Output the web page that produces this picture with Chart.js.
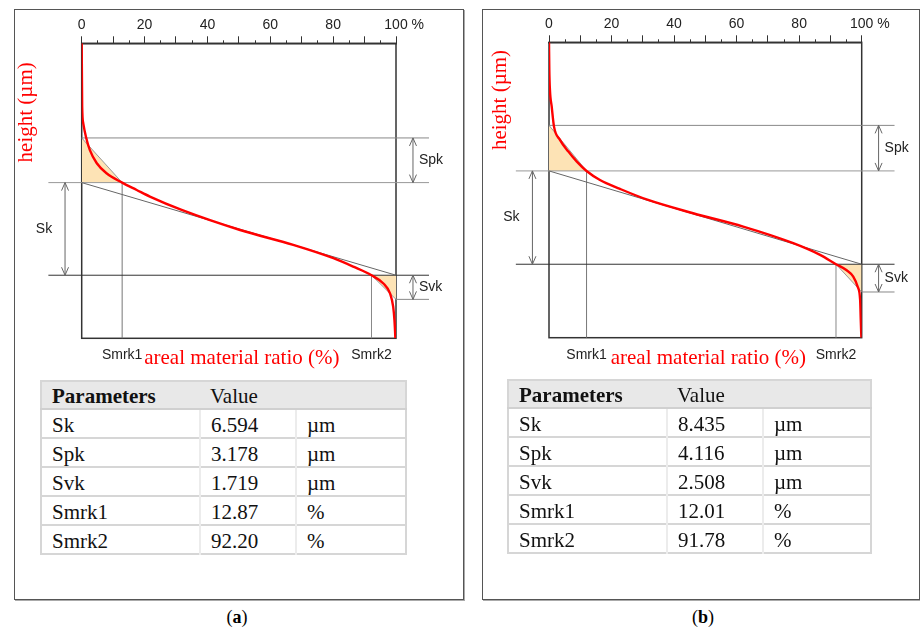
<!DOCTYPE html>
<html>
<head>
<meta charset="utf-8">
<title>Material ratio curves</title>
<script src="https://cdn.jsdelivr.net/npm/chart.js@4.4.1/dist/chart.umd.min.js"></script>
<style>
  body { margin: 0; background: #fff; }
  #page { position: relative; width: 920px; height: 635px; overflow: hidden; font-family: "Liberation Serif", "DejaVu Serif", serif; }
  .panel { position: absolute; top: 9px; height: 591px; box-sizing: border-box; border: 1px solid #555; box-shadow: 1px 1px 0 #aaa; }
  #panelA { left: 14px; width: 450px; }
  #panelB { left: 482px; width: 438px; }
  canvas { position: absolute; top: 0; }
  #chartA { left: 0; }
  #chartB { left: 465px; }
  table { position: absolute; border-collapse: collapse; table-layout: fixed; font-size: 21px; color: #111; border: 2px solid #d6d6d6; }
  #tableA { left: 40px; top: 380px; width: 367px; }
  #tableB { left: 507px; top: 379px; width: 365px; }
  th, td { text-align: left; vertical-align: bottom; padding: 0 0 1px 10px; line-height: 21px; font-weight: normal; }
  th { height: 25px; background: #e8e8e8; border-bottom: 2px solid #d0d0d0; }
  th.bold { font-weight: bold; }
  td { height: 26px; border-top: 2px solid #d6d6d6; border-left: 2px solid #ececec; }
  td:first-child { border-left: none; }
  .cap { position: absolute; top: 607px; font-size: 18px; width: 60px; text-align: center; }
  .cap b { font-weight: bold; }
</style>
</head>
<body>
<div id="page">
  <div class="panel" id="panelA"></div>
  <div class="panel" id="panelB"></div>
  <canvas id="chartA" width="465" height="380"></canvas>
  <canvas id="chartB" width="455" height="380"></canvas>
  <table id="tableA"></table>
  <table id="tableB"></table>
  <div class="cap" style="left:207px">(<b>a</b>)</div>
  <div class="cap" style="left:673px">(<b>b</b>)</div>
</div>
<script>
// material ratio (%) and height (µm above the lowest point)
var ratioA = [0, 0.15, 0.5, 1.4, 2.6, 4.8, 7.9, 12.87, 17.5, 21.7, 31.8, 50.4, 67.3, 80.1, 86.4, 92.2, 96.0, 98.1, 99.1, 99.5, 99.7, 99.8];
var heightA = [21.0, 16.5, 15.3, 14.3, 13.4, 12.46, 11.75, 11.08, 10.56, 10.09, 9.14, 7.71, 6.65, 5.70, 5.10, 4.49, 3.9, 3.2, 2.25, 1.3, 0.5, 0];

var ratioB = [0, 0.1, 0.3, 0.86, 1.6, 3.5, 6.2, 8.9, 12.01, 16.3, 22.7, 31.2, 46.1, 62.1, 78.1, 86.7, 91.78, 95.2, 97.3, 98.7, 99.5, 99.7, 99.9];
var heightB = [26.7, 24.2, 22.4, 20.9, 19.08, 17.88, 16.82, 15.91, 15.07, 14.25, 13.45, 12.5, 11.25, 10.04, 8.54, 7.48, 6.64, 6.09, 5.52, 4.61, 3.41, 1.6, 0];

// table
var paramNames = ['Sk', 'Spk', 'Svk', 'Smrk1', 'Smrk2'];
var paramUnits = ['µm', 'µm', 'µm', '%', '%'];
var paramsA = [6.594, 3.178, 1.719, 12.87, 92.20];
var paramsB = [8.435, 4.116, 2.508, 12.01, 91.78];

// lower edge of the core band and top of the plot (µm)
var coreBaseA = 4.49, topA = 21.0;
var coreBaseB = 6.64, topB = 26.7;

var xTickLabels = [0, 20, 40, 60, 80, 100];

Chart.defaults.font.family = '"Liberation Sans", Arial, sans-serif';
Chart.defaults.font.size = 14;
Chart.defaults.color = '#222';

function fillTable(id, vals) {
  var html = '<colgroup><col style="width:159px"><col style="width:96px"><col></colgroup>';
  html += '<tr><th class="bold">Parameters</th><th colspan="2">Value</th></tr>';
  for (var i = 0; i < paramNames.length; i++) {
    var txt = paramUnits[i] == '%' ? vals[i].toFixed(2) : vals[i].toFixed(3);
    html += '<tr><td>' + paramNames[i] + '</td><td>' + txt + '</td><td>' + paramUnits[i] + '</td></tr>';
  }
  document.getElementById(id).innerHTML = html;
}

function arrow(ctx, x, y1, y2) {
  ctx.beginPath();
  ctx.moveTo(x, y1); ctx.lineTo(x, y2);
  ctx.moveTo(x - 3.5, y1 + 8); ctx.lineTo(x, y1); ctx.lineTo(x + 3.5, y1 + 8);
  ctx.moveTo(x - 3.5, y2 - 8); ctx.lineTo(x, y2); ctx.lineTo(x + 3.5, y2 - 8);
  ctx.stroke();
}

var afPlugin = {
  id: 'af',
  beforeDatasetsDraw: function (chart) {
    var a = chart.chartArea, ctx = chart.ctx;
    ctx.save();
    ctx.strokeStyle = '#333';
    ctx.lineWidth = 1.5;
    ctx.strokeRect(a.left, a.top, a.right - a.left, a.bottom - a.top);
    ctx.restore();
  },
  afterDatasetsDraw: function (chart, args, o) {
    var ctx = chart.ctx, a = chart.chartArea;
    var xs = chart.scales.x, ys = chart.scales.y;
    ctx.save();
    // minor ticks
    ctx.strokeStyle = '#333';
    ctx.lineWidth = 1;
    ctx.beginPath();
    for (var v = 5; v < 100; v += 10) {
      var px = Math.round(xs.getPixelForValue(v)) + 0.5;
      ctx.moveTo(px, a.top); ctx.lineTo(px, a.top - 3);
    }
    ctx.stroke();
    // % after the last tick label
    ctx.font = '14px "Liberation Sans", Arial, sans-serif';
    ctx.fillStyle = '#222';
    ctx.textBaseline = 'middle';
    ctx.textAlign = 'left';
    var x100 = xs.getPixelForValue(100);
    ctx.fillText(' %', x100 + ctx.measureText('100').width / 2, a.top - 18.4);

    // arrows
    ctx.strokeStyle = '#666';
    var xr = xs.getPixelForValue(105.4), xl = xs.getPixelForValue(-5.3);
    var ySpk = ys.getPixelForValue(o.spkTop), yTop = ys.getPixelForValue(o.coreTop);
    var yBot = ys.getPixelForValue(o.coreBase), yVk = ys.getPixelForValue(o.svkBot);
    arrow(ctx, xr, ySpk, yTop);
    arrow(ctx, xl, yTop, yBot);
    arrow(ctx, xr, yBot, yVk);

    ctx.fillStyle = '#222';
    ctx.fillText('Spk', xr + 6, (ySpk + yTop) / 2);
    ctx.fillText('Svk', xr + 6, (yBot + yVk) / 2);
    ctx.textAlign = 'center';
    ctx.fillText('Sk', xl - 21, (yTop + yBot) / 2);
    ctx.textBaseline = 'alphabetic';
    ctx.fillText('Smrk1', xs.getPixelForValue(o.smrk1), a.bottom + 21);
    ctx.fillText('Smrk2', xs.getPixelForValue(o.smrk2), a.bottom + 21);

    // red axis titles
    ctx.fillStyle = '#ff0000';
    ctx.font = '21px "Liberation Serif", "DejaVu Serif", serif';
    ctx.fillText('areal material ratio (%)', (a.left + a.right) / 2 + 3, a.bottom + 26);
    ctx.translate(a.left - o.titleDx, a.top + o.titleDy);
    ctx.rotate(-Math.PI / 2);
    ctx.textBaseline = 'middle';
    ctx.fillText('height (µm)', 0, 0);
    ctx.restore();
  }
};

function seg(points, color, width) {
  return { data: points, borderColor: color, borderWidth: width, pointRadius: 0, fill: false, clip: false, tension: 0, order: 2 };
}

function makeChart(id, ratio, height, p, base, yMax, pad, titleDx, titleDy) {
  var sk = p[0], spk = p[1], svk = p[2], smrk1 = p[3], smrk2 = p[4];
  var coreTop = base + sk, spkTop = coreTop + spk, svkBot = base - svk;
  var L = -10.6, R = 110.5;
  var curve = ratio.map(function (r, i) { return { x: r, y: height[i] }; });

  var datasets = [
    { data: curve, borderColor: '#ff0000', borderWidth: 2.4, pointRadius: 0, fill: false, cubicInterpolationMode: 'monotone', order: 0 },
    seg([{ x: 0, y: coreTop }, { x: 100, y: base }], '#666', 1),
    seg([{ x: 0, y: spkTop }, { x: R, y: spkTop }], '#888', 1),
    seg([{ x: L, y: coreTop }, { x: R, y: coreTop }], '#999', 1),
    seg([{ x: L, y: base }, { x: R, y: base }], '#333', 1),
    seg([{ x: 100, y: svkBot }, { x: R, y: svkBot }], '#888', 1),
    seg([{ x: smrk1, y: 0 }, { x: smrk1, y: coreTop }], '#777', 1),
    seg([{ x: smrk2, y: 0 }, { x: smrk2, y: base }], '#888', 1),
    { data: [{ x: 0, y: spkTop }, { x: smrk1, y: coreTop }], borderColor: '#999', borderWidth: 1, pointRadius: 0,
      fill: { value: coreTop }, backgroundColor: '#fde3b5', order: 3 },
    { data: [{ x: smrk2, y: base }, { x: 100, y: svkBot }], borderColor: '#999', borderWidth: 1, pointRadius: 0,
      fill: { value: base }, backgroundColor: '#fde3b5', order: 3 }
  ];

  return new Chart(document.getElementById(id), {
    type: 'line',
    data: { datasets: datasets },
    options: {
      responsive: false,
      animation: false,
      layout: { padding: pad },
      plugins: {
        legend: { display: false },
        tooltip: { enabled: false },
        af: { coreBase: base, coreTop: coreTop, spkTop: spkTop, svkBot: svkBot, smrk1: smrk1, smrk2: smrk2, titleDx: titleDx, titleDy: titleDy }
      },
      scales: {
        x: {
          type: 'linear',
          position: 'top',
          min: 0,
          max: 100,
          afterFit: function (scale) { scale.height = 30; },
          ticks: {
            stepSize: 10,
            autoSkip: false,
            maxRotation: 0,
            padding: 3,
            color: '#222',
            callback: function (v) { return xTickLabels.indexOf(v) >= 0 ? String(v) : ''; }
          },
          grid: { drawOnChartArea: false, tickLength: 7, color: '#333', lineWidth: 1 },
          border: { color: '#333', width: 1.5 }
        },
        y: { type: 'linear', display: false, min: 0, max: yMax }
      }
    },
    plugins: [afPlugin]
  });
}

fillTable('tableA', paramsA);
fillTable('tableB', paramsB);
makeChart('chartA', ratioA, heightA, paramsA, coreBaseA, topA, { left: 81.7, right: 69, top: 13.3, bottom: 41.7 }, 55.7, 69);
makeChart('chartB', ratioB, heightB, paramsB, coreBaseB, topB, { left: 84, right: 58.3, top: 12.3, bottom: 42.3 }, 49, 57.7);
</script>
</body>
</html>
